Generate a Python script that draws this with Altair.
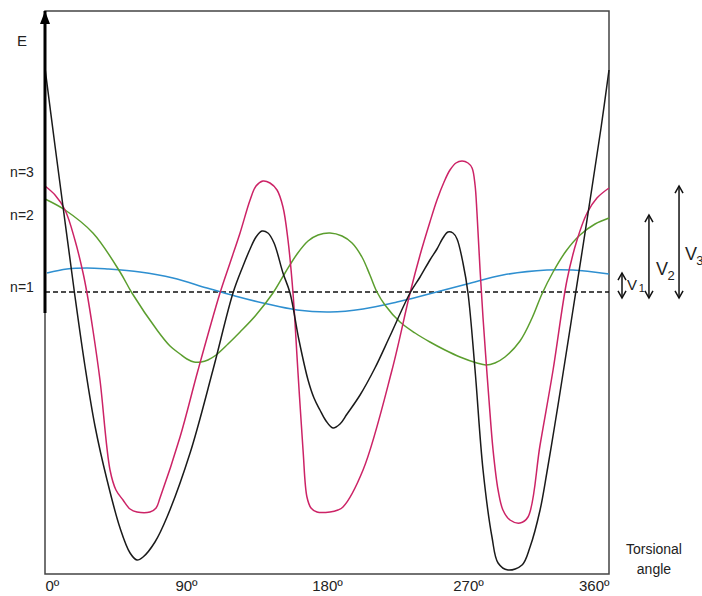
import altair as alt
import pandas as pd

FONT = "Liberation Sans"
TEXT = "#222222"

# ---- curve readings: torsional angle (deg) and relative energy ----
blue_angle = [1.3, 14.0, 26.8, 39.6, 60.6, 81.7, 103.4, 121.3, 139.1, 160.9, 181.9,
              203.0, 224.7, 242.6, 269.4, 292.3, 320.4, 337.0, 360]
blue_E = [301, 305, 306, 305, 302, 296, 286, 278, 271, 264, 262,
          265, 272, 279, 290, 299, 304, 304, 300]

green_angle = [0, 12.8, 30.6, 47.9, 55.5, 71.5, 79.8, 86.2, 90.6, 95.1, 99.6, 104.0,
               109.2, 116.8, 124.5, 134.7, 145.5, 153.2, 160.9, 167.9, 174.3, 181.9,
               189.6, 196.0, 202.3, 207.4, 211.9, 217.0, 226.6, 236.2, 245.7, 255.3,
               264.9, 275.7, 281.5, 287.2, 293.6, 303.2, 310.9, 317.2, 324.3, 332.6,
               341.5, 351.1, 360]
green_E = [375, 364, 341, 302, 281, 244, 228, 220, 215, 212, 212, 214,
           219, 230, 242, 259, 281, 301, 320, 333, 339, 341,
           338, 331, 317, 299, 282, 269, 252, 241, 232, 224,
           217, 211, 209, 211, 217, 233, 256, 280, 302, 323,
           339, 350, 356]

mag_angle = [0, 6.4, 12.8, 19.1, 24.3, 26.8, 30.6, 35.1, 41.5, 45.3, 49.8, 54.3, 58.7,
             67.0, 70.9, 73.4, 86.2, 97.7, 111.7, 118.1, 124.5, 130.9, 134.7, 139.1,
             143.6, 148.1, 151.9, 155.1, 158.3, 161.5, 164.7, 167.2, 169.8, 173.6,
             181.9, 187.0, 190.2, 203.0, 221.5, 233.0, 239.4, 245.7, 250.2, 254.7,
             258.5, 262.3, 266.2, 270.0, 272.6, 274.5, 275.7, 277.7, 279.6, 281.5,
             283.4, 286.0, 289.2, 292.3, 296.8, 303.2, 308.3, 316.0, 324.3, 333.2,
             339.6, 346.0, 352.3, 360]
mag_E = [388, 379, 364, 334, 301, 281, 244, 194, 104, 84, 74, 65, 62,
         62, 66, 76, 137, 204, 281, 311, 341, 374, 388, 393,
         391, 384, 367, 334, 281, 201, 124, 77, 66, 62,
         62, 64, 67, 104, 204, 281, 319, 352, 374, 392,
         404, 411, 413, 411, 406, 389, 362, 304, 256, 214,
         174, 124, 84, 64, 54, 51, 57, 129, 204, 294,
         334, 361, 376, 386]

blk_angle = [0, 6.4, 12.8, 19.1, 25.5, 31.9, 39.6, 47.9, 54.3, 58.7, 62.6, 70.2, 77.9,
             92.6, 107.2, 120.0, 126.4, 130.9, 134.7, 138.5, 142.3, 146.2, 151.9,
             156.4, 162.1, 167.9, 171.7, 175.5, 179.4, 183.8, 188.3, 192.8, 201.1,
             210.6, 220.2, 233.0, 239.4, 245.7, 250.2, 254.0, 257.2, 260.4, 263.0,
             266.8, 270.0, 274.5, 279.6, 285.3, 289.2, 295.5, 304.5, 309.6, 316.0,
             320.4, 325.5, 330.0, 336.4, 342.8, 349.1, 354.9, 360]
blk_E = [506, 428, 352, 278, 208, 148, 94, 46, 21, 14, 17, 32, 57,
         121, 204, 281, 308, 325, 337, 343, 341, 331, 301,
         281, 234, 194, 176, 164, 153, 146, 150, 160, 179,
         206, 238, 281, 297, 314, 325, 336, 342, 341, 335,
         311, 281, 204, 104, 37, 11, 4, 9, 27, 64,
         102, 150, 194, 258, 322, 386, 446, 504]

series_names = ["n=1", "n=2", "n=3", "total"]
series_colors = ["#2E8FD0", "#5B9E2E", "#CC2366", "#1A1A1A"]

tick_values = [0, 90, 180, 270, 360]

# level of the n=1 reference (dashed line) and the E axis extent
n1_level = 282
e_axis_bottom = 261
e_axis_top = 563

# left-hand labels
left_labels = ["E", "n=3", "n=2", "n=1"]
left_angle = [-14.7, -14.7, -14.7, -14.7]
left_E = [533, 401, 358, 286]
left_size = [15, 14, 14, 14]

# barrier arrows V1, V2, V3
v_angle = [368.3, 385.5, 404.7]
v_top = [301, 359, 388]
v_bottom = [276, 276, 276]
v_letter_angle = [374.7, 393.8, 412.3]
v_letter_E = [289, 304, 319]
v_letter_size = [15, 18, 18]
v_sub = ["1", "2", "3"]
v_sub_angle = [381.0, 399.6, 418.0]
v_sub_E = [285, 298, 313]
v_sub_size = [11, 13, 13]

xlabel_lines = ["Torsional", "angle"]
xlabel_angle = [388.7, 388.7]
xlabel_E = [24, 4]

# ---- tables ----
rows = []
for name, a_list, e_list in zip(series_names,
                                [blue_angle, green_angle, mag_angle, blk_angle],
                                [blue_E, green_E, mag_E, blk_E]):
    for a, e in zip(a_list, e_list):
        rows.append({"series": name, "angle": a, "E": e})
curves = pd.DataFrame(rows)

left_df = pd.DataFrame({"label": left_labels, "angle": left_angle, "E": left_E, "size": left_size})
arrows_df = pd.DataFrame({"angle": v_angle, "E": v_top, "E2": v_bottom})
vlet_df = pd.DataFrame({"label": ["V"] * 3, "angle": v_letter_angle, "E": v_letter_E, "size": v_letter_size})
vsub_df = pd.DataFrame({"label": v_sub, "angle": v_sub_angle, "E": v_sub_E, "size": v_sub_size})
xlab_df = pd.DataFrame({"label": xlabel_lines, "angle": xlabel_angle, "E": xlabel_E})
axis_df = pd.DataFrame({"angle": [0], "E": [e_axis_top], "E2": [e_axis_bottom]})
dash_df = pd.DataFrame({"angle": [0], "angle2": [360], "E": [n1_level]})

xscale = alt.Scale(domain=[0, 360], nice=False, zero=False)
yscale = alt.Scale(domain=[0, 563], nice=False, zero=False)
xaxis = alt.Axis(values=tick_values, labelExpr="datum.value + 'º'", domain=False,
                 ticks=False, tickSize=0, grid=False, title=None, labelFont=FONT,
                 labelFontSize=15, labelColor=TEXT, labelPadding=4, labelFlush=True,
                 labelAngle=0)

X = alt.X("angle:Q", scale=xscale, axis=xaxis)
Y = alt.Y("E:Q", scale=yscale, axis=None)

lines = alt.Chart(curves).mark_line(interpolate="catmull-rom", strokeWidth=1.5).encode(
    x=X, y=Y,
    color=alt.Color("series:N", scale=alt.Scale(domain=series_names, range=series_colors), legend=None),
    detail="series:N",
)

dashed = alt.Chart(dash_df).mark_rule(color="#111111", strokeWidth=1.3, strokeDash=[5, 3]).encode(
    x=X, x2="angle2:Q", y=Y
)

e_axis = alt.Chart(axis_df).mark_rule(color="#000000", strokeWidth=3).encode(
    x=X, y=Y, y2="E2:Q"
)
e_head = alt.Chart(axis_df).mark_point(shape="M0,0L-1,2.6L1,2.6Z", filled=True, size=100,
                                        color="#000000", opacity=1).encode(x=X, y=Y)

arrow_shafts = alt.Chart(arrows_df).mark_rule(color="#111111", strokeWidth=1.5).encode(
    x=X, y=Y, y2="E2:Q"
)
arrow_top = alt.Chart(arrows_df).mark_point(shape="M-1,1.8L0,0L1,1.8", filled=False, size=64,
                                             color="#111111", strokeWidth=1.5, opacity=1).encode(x=X, y=Y)
arrow_bot = alt.Chart(arrows_df).mark_point(shape="M-1,-1.8L0,0L1,-1.8", filled=False, size=64,
                                             color="#111111", strokeWidth=1.5, opacity=1).encode(
    x=X, y=alt.Y("E2:Q", scale=yscale, axis=None)
)

def text_layer(df, align="center"):
    return alt.Chart(df).mark_text(font=FONT, color=TEXT, align=align, baseline="middle").encode(
        x=X, y=Y, text="label:N", size=alt.Size("size:Q", scale=None, legend=None)
    )

left_text = text_layer(left_df)
v_text = text_layer(vlet_df)
v_sub_text = text_layer(vsub_df)
xlab_text = alt.Chart(xlab_df).mark_text(font=FONT, color=TEXT, fontSize=14, align="center",
                                          baseline="middle").encode(x=X, y=Y, text="label:N")

chart = alt.layer(
    dashed, lines, e_axis, e_head, arrow_shafts, arrow_top, arrow_bot,
    left_text, v_text, v_sub_text, xlab_text
).properties(
    width=564, height=563,
    autosize=alt.AutoSizeParams(type="none"),
    padding={"left": 45, "top": 11, "right": 93, "bottom": 22},
    background="white",
).configure_view(stroke="#444444", strokeWidth=1.5)

chart.save("out.html", embed_options={"renderer": "svg", "actions": False})
